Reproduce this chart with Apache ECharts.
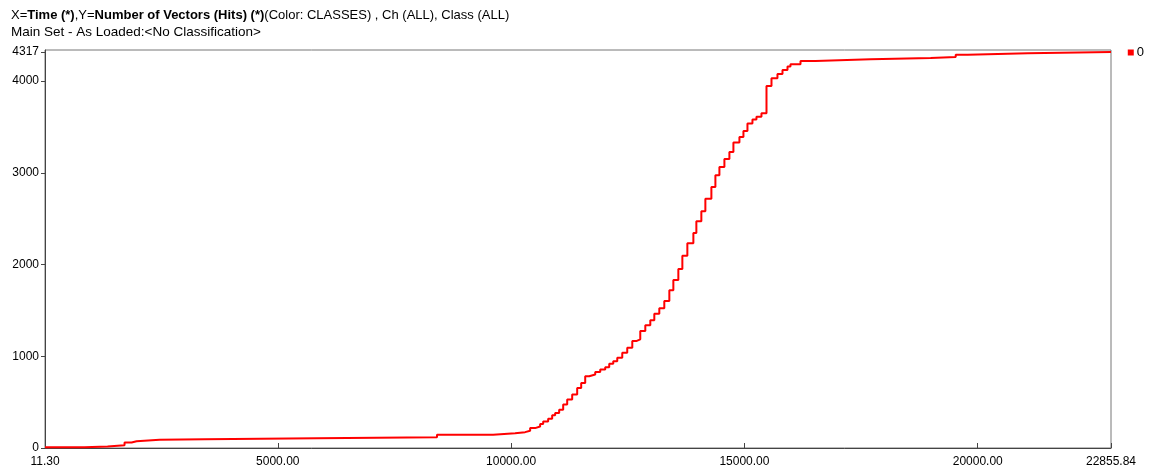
<!DOCTYPE html>
<html>
<head>
<meta charset="utf-8">
<script src="https://cdn.jsdelivr.net/npm/echarts@6/dist/echarts.min.js"></script>
<style>
html,body{margin:0;padding:0;background:#fff;}
#c{width:1149px;height:471px;}
</style>
</head>
<body>
<div id="c"></div>
<script>
// Time (x) at which the cumulative hit count steps to the value in hitCounts
const timeValues = [11.3, 858, 1352, 1716, 1867, 1974, 2468, 3433, 5837, 8412, 9614,
  10086, 10300, 10408, 10515, 10622, 10687, 10794, 10880, 10944, 11030, 11116, 11202,
  11309, 11416, 11502, 11588, 11674, 11803, 11910, 12017, 12103, 12189, 12275, 12382,
  12489, 12597, 12682, 12768, 12876, 12983, 13069, 13176, 13283, 13391, 13477, 13584,
  13670, 13777, 13906, 13970, 14077, 14163, 14292, 14378, 14464, 14571, 14678, 14764,
  14893, 14979, 15065, 15172, 15258, 15365, 15473, 15580, 15708, 15816, 15923, 15987,
  16202, 16524, 17704, 18991, 19528, 19786, 21074, 22855.84];
const hitCounts = [9, 16, 31, 60, 74, 90, 96, 107, 118, 145, 162,
  173, 188, 217, 235, 261, 290, 320, 356, 381, 418, 473, 528,
  583, 655, 710, 783, 802, 830, 856, 881, 918, 947, 983, 1038,
  1093, 1166, 1185, 1276, 1338, 1393, 1465, 1524, 1604, 1721, 1831, 1951,
  2097, 2232, 2345, 2472, 2582, 2718, 2845, 2973, 3064, 3151, 3228, 3331,
  3392, 3458, 3539, 3583, 3611, 3649, 3947, 4032, 4079, 4123, 4159, 4185,
  4221, 4238, 4254, 4265, 4287, 4305, 4317, 4317];
const xTicks = [11.30, 5000, 10000, 15000, 20000, 22855.84];
const yTicks = [0, 1000, 2000, 3000, 4000, 4317];
const seriesName = '0';

const chart = echarts.init(document.getElementById('c'), null, {renderer: 'canvas'});
const font = 'Liberation Sans, Arial, sans-serif';
chart.setOption({
  animation: false,
  backgroundColor: '#ffffff',
  title: {
    left: 6, top: 4,
    text: '{n|X=}{b|Time (*)}{n|,Y=}{b|Number of Vectors (Hits) (*)}{n|(Color: CLASSES) , Ch (ALL), Class (ALL)}',
    subtext: 'Main Set - As Loaded:<No Classification>',
    itemGap: 3,
    textStyle: {
      fontFamily: font, fontSize: 13, color: '#000', fontWeight: 'normal',
      rich: {
        n: {fontFamily: font, fontSize: 13, color: '#000'},
        b: {fontFamily: font, fontSize: 13, color: '#000', fontWeight: 'bold'}
      }
    },
    subtextStyle: {fontFamily: font, fontSize: 13.5, color: '#000'}
  },
  legend: {
    right: 0, top: 41,
    icon: 'rect', itemWidth: 6, itemHeight: 6,
    textStyle: {fontFamily: font, fontSize: 13, color: '#000', padding: [0,0,0,-2]},
    data: [seriesName]
  },
  grid: {
    left: 45, right: 38, top: 50, bottom: 23,
    show: true, borderColor: '#777', borderWidth: 1
  },
  xAxis: {
    type: 'value', min: 11.3, max: 22855.84,
    axisLine: {show: true, lineStyle: {color: '#444'}},
    axisTick: {show: true, inside: true, length: 5, lineStyle: {color: '#444'}, customValues: xTicks},
    axisLabel: {fontFamily: font, fontSize: 12, color: '#000', margin: 8,
      customValues: xTicks, formatter: v => v.toFixed(2)},
    splitLine: {show: false}
  },
  yAxis: {
    type: 'value', min: 0, max: 4340,
    axisLine: {show: true, lineStyle: {color: '#444'}},
    axisTick: {show: true, inside: false, length: 4, lineStyle: {color: '#444'}, customValues: yTicks},
    axisLabel: {fontFamily: font, fontSize: 12, color: '#000', margin: 6,
      customValues: yTicks, formatter: v => String(Math.round(v))},
    splitLine: {show: false}
  },
  series: [{
    name: seriesName,
    type: 'line',
    step: 'end',
    symbol: 'none',
    data: timeValues.map((t, i) => [t, hitCounts[i]]),
    itemStyle: {color: '#ff0000'},
    lineStyle: {color: '#ff0000', width: 2}
  }]
});
</script>
</body>
</html>
